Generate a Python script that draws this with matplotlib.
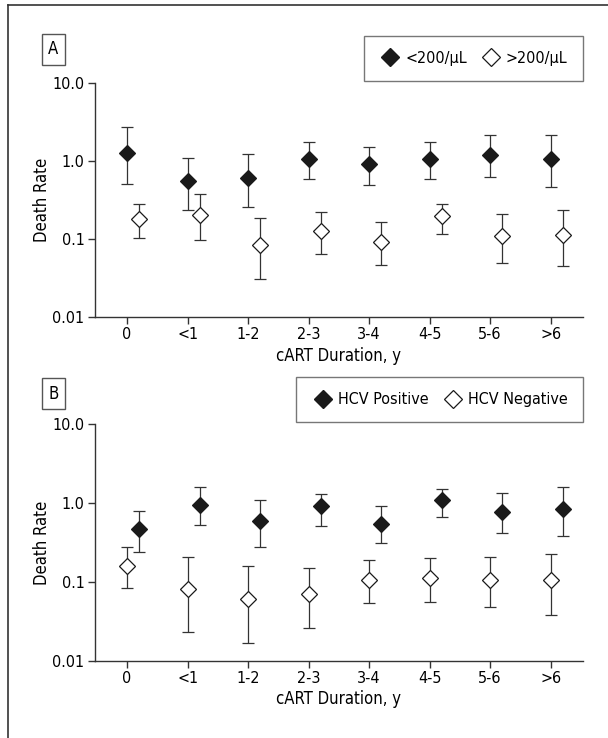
import numpy as np
import matplotlib
matplotlib.use("Agg")
import matplotlib.pyplot as plt
from matplotlib import font_manager
from matplotlib.lines import Line2D

CATEGORIES = ["0", "<1", "1-2", "2-3", "3-4", "4-5", "5-6", ">6"]

# Panel A: CD4 count
A_LOW_RATE = [1.28, 0.556, 0.601, 1.05, 0.906, 1.05, 1.20, 1.06]
A_LOW_HI = [2.69, 1.08, 1.22, 1.73, 1.52, 1.76, 2.13, 2.15]
A_LOW_LO = [0.514, 0.237, 0.259, 0.589, 0.489, 0.583, 0.625, 0.466]

A_HIGH_RATE = [0.178, 0.205, 0.0847, 0.125, 0.0916, 0.199, 0.108, 0.114]
A_HIGH_HI = [0.282, 0.375, 0.185, 0.223, 0.165, 0.282, 0.209, 0.234]
A_HIGH_LO = [0.103, 0.097, 0.0308, 0.064, 0.047, 0.117, 0.049, 0.045]

# Panel B: HCV status
B_POS_RATE = [0.463, 0.943, 0.585, 0.916, 0.541, 1.08, 0.776, 0.847]
B_POS_HI = [0.79, 1.60, 1.08, 1.29, 0.916, 1.52, 1.33, 1.60]
B_POS_LO = [0.238, 0.52, 0.276, 0.515, 0.31, 0.664, 0.416, 0.385]

B_NEG_RATE = [0.161, 0.0807, 0.0614, 0.0703, 0.106, 0.112, 0.107, 0.105]
B_NEG_HI = [0.281, 0.206, 0.157, 0.152, 0.188, 0.20, 0.21, 0.227]
B_NEG_LO = [0.083, 0.0229, 0.0169, 0.026, 0.0536, 0.0562, 0.0476, 0.0384]

W, H = 608, 738
LC = "#333333"


def pick_font():
    # the reference uses a condensed sans; take the narrowest we have
    fonts = font_manager.fontManager.ttflist
    names = {f.name for f in fonts}
    if "Liberation Sans Narrow" in names:
        return ["Liberation Sans Narrow", "DejaVu Sans"], "normal", 12.5
    cond = [f for f in fonts if f.name == "DejaVu Sans"
            and str(f.stretch) in ("condensed", "semi-condensed", "500")
            and f.weight in (400, "normal")]
    if cond:
        return ["DejaVu Sans"], "condensed", 11.5
    return ["Liberation Sans", "DejaVu Sans"], "normal", 11


FAMILY, STRETCH, FS = pick_font()
plt.rcParams['font.family'] = FAMILY
plt.rcParams['font.stretch'] = STRETCH


def draw_series(ax, x, rate, lo, hi, filled):
    rate = np.array(rate)
    yerr = [rate - np.array(lo), np.array(hi) - rate]
    ax.errorbar(x, rate, yerr=yerr, fmt="none", ecolor=LC,
                elinewidth=0.9, capsize=4, capthick=0.9, zorder=2)
    ax.plot(x, rate, linestyle="none", marker="D", markersize=8.5,
            markerfacecolor="#1a1a1a" if filled else "white",
            markeredgecolor="#1a1a1a", markeredgewidth=0.9, zorder=3)


def setup_axes(ax):
    ax.set_yscale("log")
    ax.set_ylim(0.01, 10.0)
    ax.set_yticks([0.01, 0.1, 1.0, 10.0])
    ax.set_yticklabels(["0.01", "0.1", "1.0", "10.0"])
    ax.yaxis.set_minor_locator(matplotlib.ticker.NullLocator())
    ax.set_xlim(-0.53, 7.53)
    ax.set_xticks(np.arange(len(CATEGORIES)), labels=CATEGORIES)
    for s in ["top", "right"]:
        ax.spines[s].set_visible(False)
    for s in ["left", "bottom"]:
        ax.spines[s].set_linewidth(1.0)
        ax.spines[s].set_color(LC)
    ax.tick_params(axis="both", direction="out", length=5, width=1.0,
                   color=LC, labelsize=FS, pad=2.5)
    ax.set_xlabel("cART Duration, y", fontsize=FS + 0.5, labelpad=3)
    ax.set_ylabel("Death Rate", fontsize=FS + 0.5, labelpad=1)


def add_legend(ax, labels):
    handles = [
        Line2D([], [], linestyle="none", marker="D", markersize=9,
               markerfacecolor="#1a1a1a", markeredgecolor="#1a1a1a"),
        Line2D([], [], linestyle="none", marker="D", markersize=9,
               markerfacecolor="white", markeredgecolor="#1a1a1a",
               markeredgewidth=0.9),
    ]
    leg = ax.legend(handles, labels, ncol=2, loc="lower right",
                    bbox_to_anchor=(1.0, 1.008), borderaxespad=0,
                    fontsize=FS, frameon=True, fancybox=False,
                    borderpad=0.95, handlelength=1.4, handletextpad=0.25,
                    columnspacing=0.8)
    leg.get_frame().set_edgecolor("#555555")
    leg.get_frame().set_linewidth(1.0)


def main():
    fig = plt.figure(figsize=(W / 100, H / 100), dpi=100)

    left = 95 / W
    width = (582.7 - 95) / W
    ax_a = fig.add_axes([left, 1 - 317 / H, width, (317 - 83) / H])
    ax_b = fig.add_axes([left, 1 - 660.7 / H, width, (660.7 - 424.3) / H])

    x = np.arange(len(CATEGORIES))

    draw_series(ax_a, x, A_LOW_RATE, A_LOW_LO, A_LOW_HI, filled=True)
    draw_series(ax_a, x + 0.2, A_HIGH_RATE, A_HIGH_LO, A_HIGH_HI, filled=False)
    setup_axes(ax_a)
    add_legend(ax_a, ["<200/µL", ">200/µL"])

    draw_series(ax_b, x + 0.2, B_POS_RATE, B_POS_LO, B_POS_HI, filled=True)
    draw_series(ax_b, x, B_NEG_RATE, B_NEG_LO, B_NEG_HI, filled=False)
    setup_axes(ax_b)
    add_legend(ax_b, ["HCV Positive", "HCV Negative"])

    # panel letters in small boxes
    for letter, yc in [("A", 49.5), ("B", 393.5)]:
        fig.text(53.5 / W, 1 - yc / H, letter, ha="center", va="center",
                 fontsize=FS + 0.5,
                 bbox=dict(boxstyle="square,pad=0.38", facecolor="white",
                           edgecolor="#555555", linewidth=1.0))

    # outer frame (top and left edges only)
    fig.add_artist(Line2D([8 / W, 8 / W], [0, 1 - 5 / H], color=LC,
                          linewidth=1.2, transform=fig.transFigure))
    fig.add_artist(Line2D([8 / W, 1], [1 - 5 / H, 1 - 5 / H], color=LC,
                          linewidth=1.2, transform=fig.transFigure))

    fig.savefig("out.png", dpi=100)
    plt.close(fig)


if __name__ == "__main__":
    main()
